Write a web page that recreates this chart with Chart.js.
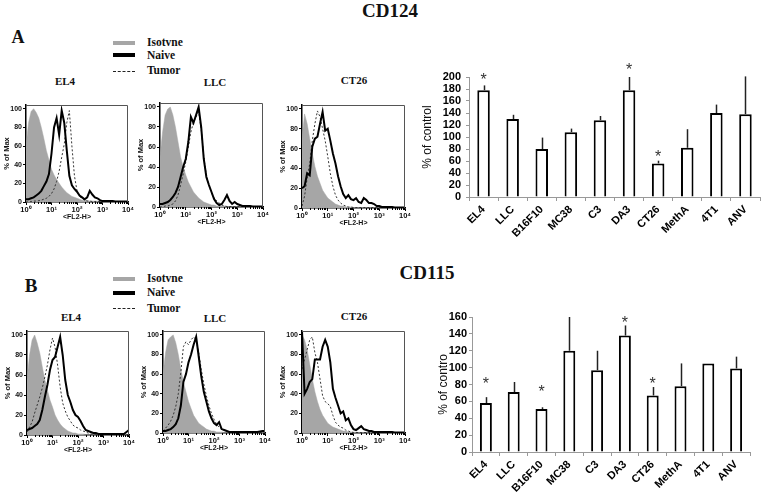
<!DOCTYPE html>
<html lang="en">
<head>
<meta charset="UTF-8">
<title>CD124 / CD115</title>
<script src="https://cdn.jsdelivr.net/npm/chart.js"></script>
<style>
    body {
        margin: 0;
        width: 763px;
        height: 503px;
        position: relative;
        overflow: hidden;
        background: #fff;
        font-family: Arial, 'Liberation Sans', sans-serif;
    }
    canvas, .t, .sw { position: absolute; }
    .t {
        transform: translate(-50%, -50%);
        white-space: nowrap;
        line-height: 1;
        font-family: 'Times New Roman', 'Liberation Serif', serif;
        font-weight: bold;
        color: #111;
    }
    .lg {
        position: absolute;
        transform: translateY(-50%);
        line-height: 1;
        font-family: 'Times New Roman', 'Liberation Serif', serif;
        font-weight: bold;
        font-size: 11.5px;
        color: #111;
    }
</style>
</head>
<body>
<!-- headings -->
<div class="t" style="left:390px;top:10px;font-size:19px">CD124</div>
<div class="t" style="left:427px;top:272px;font-size:19px">CD115</div>
<div class="t" style="left:18px;top:37px;font-size:18px">A</div>
<div class="t" style="left:31px;top:285px;font-size:19px">B</div>

<!-- legend A -->
<div class="sw" style="left:113px;top:41px;width:22px;height:4px;background:#a6a6a6"></div>
<div class="sw" style="left:113px;top:53px;width:22px;height:4px;background:#000"></div>
<div class="sw" style="left:113px;top:71px;width:22px;height:0;border-top:1.5px dashed #222"></div>
<div class="lg" style="left:147px;top:43px">Isotvne</div>
<div class="lg" style="left:147px;top:56px">Naive</div>
<div class="lg" style="left:147px;top:71px">Tumor</div>

<!-- legend B -->
<div class="sw" style="left:113px;top:277px;width:22px;height:4px;background:#a6a6a6"></div>
<div class="sw" style="left:113px;top:291px;width:22px;height:4px;background:#000"></div>
<div class="sw" style="left:113px;top:308px;width:22px;height:0;border-top:1.5px dashed #222"></div>
<div class="lg" style="left:147px;top:279px">Isotvne</div>
<div class="lg" style="left:147px;top:293px">Naive</div>
<div class="lg" style="left:147px;top:309px">Tumor</div>

<!-- histogram titles -->
<div class="t" style="left:65px;top:81px;font-size:11px">EL4</div>
<div class="t" style="left:215px;top:82px;font-size:11px">LLC</div>
<div class="t" style="left:354px;top:80px;font-size:11px">CT26</div>
<div class="t" style="left:71px;top:317px;font-size:11px">EL4</div>
<div class="t" style="left:215px;top:318px;font-size:11px">LLC</div>
<div class="t" style="left:354px;top:316px;font-size:11px">CT26</div>

<script>
    // x grid of the histograms, in decades (10^0 .. 10^4)
    const decades = [0,0.1,0.2,0.3,0.4,0.5,0.6,0.7,0.8,0.9, 1,1.1,1.2,1.3,1.4,1.5,1.6,1.7,1.8,1.9,
        2,2.1,2.2,2.3,2.4,2.5,2.6,2.7,2.8,2.9, 3,3.1,3.2,3.3,3.4,3.5,3.6,3.7,3.8,3.9, 4];
    const decadeTicks = ['10⁰', '10¹', '10²', '10³', '10⁴'];
    const maxTicks = [0, 20, 40, 60, 80, 100];

    // CD124 histograms (% of max)
    const isoA_EL4 = [60,85,97,100,96,90,80,68,55,45, 35,29,24,20,16,13,10,8,6,5, 4,3,2,2,1.5,1,1,1,1,0.5, 0.5,0.5,0.5,0.5,0.5,0.5,0.5,0.5,0.5,0.5, 0.5];
    const nvA_EL4  = [3,3,4,5,7,9,12,17,22,30, 52,80,90,72,98,85,55,28,18,14, 11,7,5,3,5,12,8,5,4,2, 1,1,1,1,1,0.5,0.5,0.5,0.5,0.5, 0.5];
    const tmA_EL4  = [0,0,0.5,1,1,1.5,2,3,4,6, 9,14,22,33,48,62,85,98,60,28, 12,6,4,2,1,1,0.5,0.5,0.5,0.5, 0.5,0.5,0.5,0.5,0.5,0.5,0.5,0.5,0.5,0.5, 0.5];

    const isoA_LLC = [50,75,92,98,100,92,80,65,50,40, 32,25,20,15,12,9,7,5,4,3, 2,2,1,1,1,1,0.5,0.5,0.5,0.5, 0.5,0.5,0.5,0.5,0.5,0.5,0.5,0.5,0.5,0.5, 0.5];
    const nvA_LLC  = [3,3,4,5,7,10,14,20,30,40, 48,65,90,84,92,100,80,48,30,22, 15,8,4,2,3,7,12,6,3,5, 3,2,1,1,1,1,0.5,0.5,0.5,0.5, 0.5];
    const tmA_LLC  = [0,0,1,1,2,3,6,12,22,33, 45,60,75,85,90,95,78,50,32,22, 14,9,6,4,2,1,0.5,0.5,0.5,0.5, 0.5,0.5,0.5,0.5,0.5,0.5,0.5,0.5,0.5,0.5, 0.5];

    const isoA_CT26 = [70,95,85,70,55,42,32,25,18,14, 10,8,6,4,3,2,2,1,1,1, 0.5,0.5,0.5,0.5,0.5,0.5,0.5,0.5,0.5,0.5, 0.5,0.5,0.5,0.5,0.5,0.5,0.5,0.5,0.5,0.5, 0.5];
    const nvA_CT26  = [20,22,35,33,62,70,72,85,97,78, 80,68,55,45,32,22,14,10,13,9, 8,10,6,5,10,8,5,5,4,2, 2,1,1,1,1,1,0.5,0.5,0.5,0.5, 0.5];
    const tmA_CT26  = [2,12,30,45,68,85,98,92,80,68, 52,35,22,13,8,5,3,2,1,1, 0.5,0.5,0.5,0.5,0.5,0.5,0.5,0.5,0.5,0.5, 0.5,0.5,0.5,0.5,0.5,0.5,0.5,0.5,0.5,0.5, 0.5];

    // CD115 histograms (% of max)
    const isoB_EL4 = [55,80,95,100,92,82,68,55,45,35, 28,20,15,11,8,6,4,3,2,2, 1,1,1,0.5,0.5,0.5,0.5,0.5,0.5,0.5, 0.5,0.5,0.5,0.5,0.5,0.5,0.5,0.5,0.5,0.5, 0.5];
    const nvB_EL4  = [5,6,7,9,11,15,25,38,50,65, 75,78,88,98,80,55,40,33,25,20, 18,14,9,5,4,3,2,2,1,1, 1,1,1,1,1,1,1,1,1,3, 5];
    const tmB_EL4  = [3,8,13,22,30,38,47,58,70,85, 97,88,70,48,32,24,18,14,10,8, 7,5,4,3,2,1,0.5,0.5,0.5,0.5, 0.5,0.5,0.5,0.5,0.5,0.5,0.5,0.5,0.5,0.5, 0.5];

    const isoB_LLC = [60,82,95,98,100,92,80,65,52,42, 32,25,18,14,10,8,6,4,3,2, 2,1,1,1,0.5,0.5,0.5,0.5,0.5,0.5, 0.5,0.5,0.5,0.5,0.5,0.5,0.5,0.5,0.5,0.5, 0.5];
    const nvB_LLC  = [2,2,3,4,6,9,15,28,52,60, 72,80,90,98,78,58,42,32,22,15, 10,8,11,4,3,2,1,1,1,1, 1,1,1,1,1,1,1,1,1.5,2, 2];
    const tmB_LLC  = [2,5,8,12,18,27,40,62,88,93, 90,95,98,95,82,65,50,38,28,20, 14,9,6,4,3,2,1,0.5,0.5,0.5, 0.5,0.5,0.5,0.5,0.5,0.5,0.5,0.5,0.5,0.5, 0.5];

    const isoB_CT26 = [100,95,85,70,55,42,32,24,18,14, 10,8,6,5,4,3,2,2,1,1, 1,0.5,0.5,0.5,0.5,0.5,0.5,0.5,0.5,0.5, 0.5,0.5,0.5,0.5,0.5,0.5,0.5,0.5,0.5,0.5, 0.5];
    const nvB_CT26  = [104,40,45,52,55,75,75,75,88,95, 88,72,45,36,28,20,22,13,15,8, 4,3,5,7,4,3,2,2,1,1, 1,1,1,1,1,1,0.5,0.5,0.5,0.5, 0.5];
    const tmB_CT26  = [65,75,85,95,98,82,72,55,38,32, 30,27,18,11,8,6,5,3,2,1, 0.5,0.5,0.5,0.5,0.5,0.5,0.5,0.5,0.5,0.5, 0.5,0.5,0.5,0.5,0.5,0.5,0.5,0.5,0.5,0.5, 0.5];

    // bar charts
    const tumors = ['EL4', 'LLC', 'B16F10', 'MC38', 'C3', 'DA3', 'CT26', 'MethA', '4T1', 'ANV'];
    const cd124 = [178, 130, 80, 108, 128, 178, 56, 82, 140, 138];
    const cd124Err = [8, 7, 19, 6, 7, 22, 4.5, 31, 14, 63];
    const cd124Star = [202, null, null, null, null, 219, 74, null, null, null];
    const cd124Ticks = [0, 20, 40, 60, 80, 100, 120, 140, 160, 180, 200];
    const cd115 = [58, 71, 51, 120, 97, 138, 67, 78, 105, 99];
    const cd115Err = [7, 12, 2, 40, 23, 12, 10, 27, 0, 14];
    const cd115Star = [85, null, 76, null, null, 158, 85, null, null, null];
    const cd115Ticks = [0, 20, 40, 60, 80, 100, 120, 140, 160];

    const sans = "Arial, 'Liberation Sans', sans-serif";

    function addCanvas(left, top, w, h) {
        const c = document.createElement('canvas');
        c.width = w; c.height = h;
        c.style.left = left + 'px';
        c.style.top = top + 'px';
        c.style.width = w + 'px';
        c.style.height = h + 'px';
        document.body.appendChild(c);
        return c;
    }

    // box around the histogram + minor log ticks
    const histFrame = {
        id: 'histFrame',
        afterDraw(chart) {
            const {ctx, chartArea: a, scales: {x}} = chart;
            ctx.save();
            ctx.strokeStyle = '#555';
            ctx.lineWidth = 1;
            ctx.beginPath();
            ctx.moveTo(a.left, a.top + 0.5);
            ctx.lineTo(a.right - 0.5, a.top + 0.5);
            ctx.lineTo(a.right - 0.5, a.bottom);
            ctx.stroke();
            ctx.strokeStyle = '#000';
            for (let n = 0; n < 4; n++) {
                for (let k = 2; k < 10; k++) {
                    const px = Math.round(x.getPixelForValue(n + Math.log10(k))) + 0.5;
                    ctx.beginPath();
                    ctx.moveTo(px, a.bottom);
                    ctx.lineTo(px, a.bottom + 2);
                    ctx.stroke();
                }
            }
            ctx.restore();
        }
    };

    function histogram(plot, iso, naive, tumor) {
        const [px, py, pw, ph] = plot;
        const canvas = addCanvas(px - 26, py - 6, pw + 33, ph + 25);
        const pts = arr => decades.map((d, i) => ({x: d, y: arr[i]}));
        new Chart(canvas.getContext('2d'), {
            type: 'line',
            data: {
                datasets: [
                    {data: pts(naive), borderColor: '#000', borderWidth: 2, order: 1},
                    {data: pts(tumor), borderColor: '#333', borderWidth: 1, borderDash: [2, 2], order: 2},
                    {data: pts(iso), borderColor: '#a6a6a6', backgroundColor: '#a6a6a6', borderWidth: 0.5, fill: 'origin', order: 3}
                ]
            },
            options: {
                responsive: false,
                animation: false,
                devicePixelRatio: 1,
                layout: {padding: {left: 0, top: 6, right: 7, bottom: 0}},
                plugins: {legend: {display: false}, tooltip: {enabled: false}},
                elements: {point: {radius: 0}, line: {tension: 0}},
                scales: {
                    x: {
                        type: 'linear', min: 0, max: 4,
                        afterFit: s => { s.height = 19; },
                        afterBuildTicks: s => { s.ticks = decadeTicks.map((t, i) => ({value: i})); },
                        ticks: {autoSkip: false, maxRotation: 0, padding: 0, color: '#111',
                            font: {size: 7.5, weight: 'bold', family: sans},
                            callback: v => decadeTicks[v]},
                        grid: {drawOnChartArea: false, tickLength: 3, color: '#000'},
                        border: {color: '#000', width: 1.5},
                        title: {display: true, text: '<FL2-H>', color: '#111', padding: {top: 0, bottom: 0},
                            font: {size: 7, weight: 'bold', family: sans}}
                    },
                    y: {
                        min: 0, max: 104,
                        afterFit: s => { s.width = 26; },
                        afterBuildTicks: s => { s.ticks = maxTicks.map(v => ({value: v})); },
                        ticks: {autoSkip: false, padding: 1, color: '#111', font: {size: 7, weight: 'bold', family: sans}},
                        grid: {drawOnChartArea: false, tickLength: 3, color: '#000'},
                        border: {color: '#000', width: 1.5},
                        title: {display: true, text: '% of Max', color: '#111', padding: {top: 2, bottom: 0},
                            font: {size: 7.5, weight: 'bold', family: sans}}
                    }
                }
            },
            plugins: [histFrame]
        });
    }

    histogram([26, 105, 102, 97], isoA_EL4, nvA_EL4, tmA_EL4);
    histogram([160, 103, 103, 104], isoA_LLC, nvA_LLC, tmA_LLC);
    histogram([302, 105, 103, 103], isoA_CT26, nvA_CT26, tmA_CT26);
    histogram([27, 331, 102, 104], isoB_EL4, nvB_EL4, tmB_EL4);
    histogram([163, 331, 102, 102], isoB_LLC, nvB_LLC, tmB_LLC);
    histogram([302, 331, 103, 102], isoB_CT26, nvB_CT26, tmB_CT26);

    // error bars and asterisks
    function barExtras(values, errs, stars) {
        return {
            id: 'barExtras',
            afterDatasetsDraw(chart) {
                const {ctx, scales: {x, y}} = chart;
                ctx.save();
                ctx.strokeStyle = '#222';
                ctx.lineWidth = 1.5;
                values.forEach((v, i) => {
                    if (!errs[i]) return;
                    const cx = Math.round(x.getPixelForValue(i)) + 0.5;
                    ctx.beginPath();
                    ctx.moveTo(cx, y.getPixelForValue(v));
                    ctx.lineTo(cx, y.getPixelForValue(v + errs[i]));
                    ctx.stroke();
                });
                ctx.fillStyle = '#333';
                ctx.font = '16px ' + sans;
                ctx.textAlign = 'center';
                ctx.textBaseline = 'alphabetic';
                stars.forEach((s, i) => {
                    if (s == null) return;
                    ctx.fillText('*', x.getPixelForValue(i), y.getPixelForValue(s) + 9);
                });
                ctx.restore();
            }
        };
    }

    function barChart(box, pad, yWidth, xHeight, values, errs, stars, ticks, yTitle, tickGap) {
        const canvas = addCanvas(box[0], box[1], box[2], box[3]);
        new Chart(canvas.getContext('2d'), {
            type: 'bar',
            data: {
                labels: tumors,
                datasets: [{
                    data: values,
                    backgroundColor: '#fff',
                    borderColor: '#000',
                    borderWidth: 2,
                    borderSkipped: 'bottom',
                    barPercentage: 0.43,
                    categoryPercentage: 1
                }]
            },
            options: {
                responsive: false,
                animation: false,
                devicePixelRatio: 1,
                layout: {padding: pad},
                plugins: {legend: {display: false}, tooltip: {enabled: false}},
                scales: {
                    x: {
                        afterFit: s => { s.height = xHeight; },
                        ticks: {autoSkip: false, minRotation: 45, maxRotation: 45, padding: 2, color: '#000',
                            font: {size: 11, weight: 'bold', family: sans}},
                        grid: {offset: true, drawOnChartArea: false, tickLength: 4, color: '#999'},
                        border: {color: '#999', width: 1}
                    },
                    y: {
                        min: ticks[0], max: ticks[ticks.length - 1],
                        afterFit: s => { s.width = yWidth; },
                        afterBuildTicks: s => { s.ticks = ticks.map(v => ({value: v})); },
                        ticks: {autoSkip: false, padding: tickGap, color: '#000', font: {size: 11, weight: 'bold', family: sans}},
                        grid: {drawOnChartArea: false, tickLength: 3, color: '#999'},
                        border: {color: '#999', width: 1},
                        title: {display: true, text: yTitle, color: '#111', padding: {top: 4, bottom: 0},
                            font: {size: 12, family: sans}}
                    }
                }
            },
            plugins: [barExtras(values, errs, stars)]
        });
    }

    barChart([395, 50, 368, 220], {left: 21, top: 27, right: 3, bottom: 0}, 53, 73,
        cd124, cd124Err, cd124Star, cd124Ticks, '% of control', 5);
    barChart([395, 285, 368, 218], {left: 37, top: 32, right: 13, bottom: 0}, 40, 51,
        cd115, cd115Err, cd115Star, cd115Ticks, '% of contro', 2);
</script>
</body>
</html>
